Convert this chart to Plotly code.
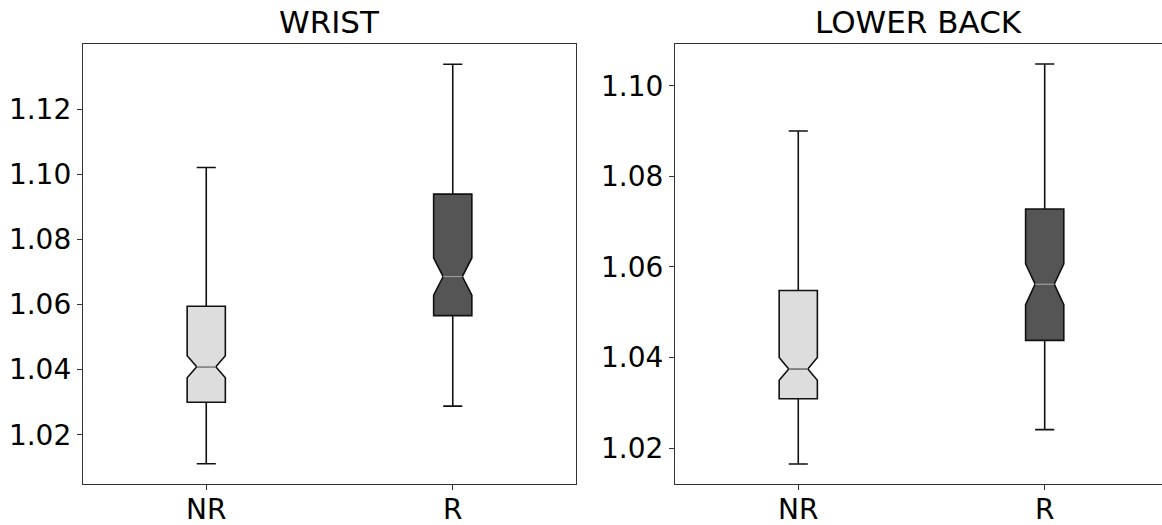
import plotly.graph_objects as go

categories = ["NR", "R"]
panel_titles = ["WRIST", "LOWER BACK"]

# precomputed box statistics per panel, per category
wrist_q1 = [1.0300, 1.0566]
wrist_median = [1.0409, 1.0686]
wrist_q3 = [1.0595, 1.0939]
wrist_low = [1.0111, 1.0288]
wrist_high = [1.1021, 1.1338]
wrist_notch = [0.0034, 0.0057]

back_q1 = [1.0309, 1.0438]
back_median = [1.0375, 1.0562]
back_q3 = [1.0548, 1.0728]
back_low = [1.0165, 1.0241]
back_high = [1.0900, 1.1048]
back_notch = [0.0025, 0.0045]

wrist_ticks = [1.02, 1.04, 1.06, 1.08, 1.10, 1.12]
back_ticks = [1.02, 1.04, 1.06, 1.08, 1.10]

fill_colors = ["#dddddd", "#555555"]
BOX_W = 0.155
NOTCH_W = 0.25

fig = go.Figure()

panels = [
    (wrist_q1, wrist_median, wrist_q3, wrist_low, wrist_high, wrist_notch, "x", "y"),
    (back_q1, back_median, back_q3, back_low, back_high, back_notch, "x2", "y2"),
]

for (q1, med, q3, lo, hi, nsp, xa, ya) in panels:
    for i, cat in enumerate(categories):
        pos = i + 1
        fig.add_trace(go.Box(
            x=[pos], q1=[q1[i]], median=[med[i]], q3=[q3[i]],
            lowerfence=[lo[i]], upperfence=[hi[i]], notchspan=[nsp[i]],
            notched=True, notchwidth=NOTCH_W, width=BOX_W, whiskerwidth=0.5,
            fillcolor=fill_colors[i], line=dict(color="#111111", width=1.6),
            boxpoints=False, hoverinfo="skip", showlegend=False,
            xaxis=xa, yaxis=ya, name=cat,
        ))
        # grey median line (matplotlib style), spanning the notch waist
        half = BOX_W / 2 * (1 - 2 * NOTCH_W)
        fig.add_trace(go.Scatter(
            x=[pos - half, pos + half], y=[med[i], med[i]], mode="lines",
            line=dict(color="#999999", width=1.6), showlegend=False,
            hoverinfo="skip", xaxis=xa, yaxis=ya,
        ))

FONT = "DejaVu Sans"
axis_common = dict(showgrid=False, zeroline=False, ticks="outside", ticklen=5,
                   tickwidth=1.2, tickcolor="#333333", linecolor="#333333",
                   linewidth=1.3, showline=True, automargin=False,
                   tickfont=dict(family=FONT, size=28, color="black"))

tickpos = [i + 1 for i in range(len(categories))]

fig.update_layout(
    width=1162, height=525,
    margin=dict(l=83, r=0, t=44, b=41),
    paper_bgcolor="white", plot_bgcolor="white",
    xaxis=dict(domain=[0, 0.4569], range=[0.5, 2.5], tickvals=tickpos,
               ticktext=categories, mirror=True, anchor="y",
               ticklabelstandoff=-5, **axis_common),
    yaxis=dict(domain=[0, 1], range=[1.0049, 1.1400], tickvals=wrist_ticks,
               tickformat=".2f", mirror=True, anchor="x", **axis_common),
    xaxis2=dict(domain=[0.5487, 1.0], range=[0.5, 2.476], tickvals=tickpos,
                ticktext=categories, mirror=True, anchor="y2",
                ticklabelstandoff=-5, **axis_common),
    yaxis2=dict(domain=[0, 1], range=[1.0121, 1.1092], tickvals=back_ticks,
                tickformat=".2f", mirror=False, anchor="x2", **axis_common),
    annotations=[
        dict(text=panel_titles[0], xref="x domain", yref="paper", x=0.5, y=1,
             xanchor="center", yanchor="bottom", yshift=2, showarrow=False,
             font=dict(family=FONT, size=31, color="black")),
        dict(text=panel_titles[1], xref="x2 domain", yref="paper", x=0.5 * 2.5 / 2.476 - 0.005, y=1,
             xanchor="center", yanchor="bottom", yshift=2, showarrow=False,
             font=dict(family=FONT, size=31, color="black")),
    ],
)

fig.write_html(
    "out.html",
    config={"displayModeBar": False},
    post_script="document.body.style.margin='0';document.body.style.overflow='hidden';",
)
